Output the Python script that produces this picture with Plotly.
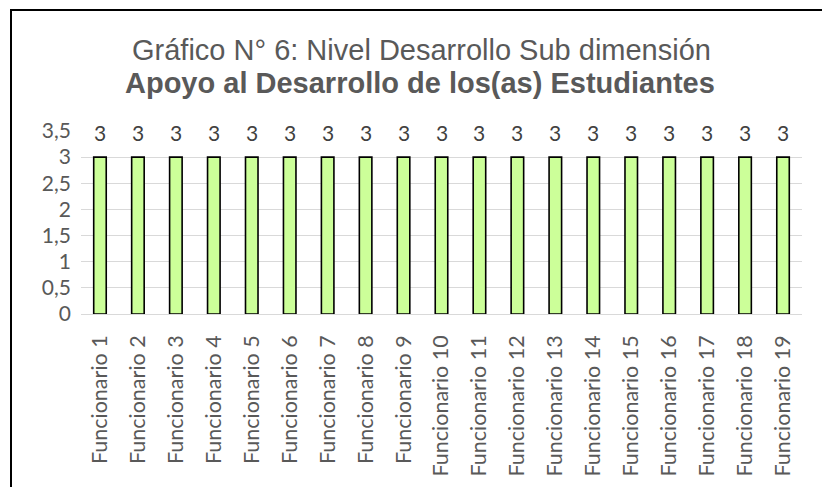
import plotly.graph_objects as go

categories = [f"Funcionario {i}" for i in range(1, 20)]
values = [3] * 19
y_ticks = [0, 0.5, 1, 1.5, 2, 2.5, 3, 3.5]
y_tick_labels = ["0", "0,5", "1", "1,5", "2", "2,5", "3", "3,5"]
title_line1 = "Gráfico N° 6: Nivel Desarrollo Sub dimensión"
title_line2 = "Apoyo al Desarrollo de los(as) Estudiantes"

W, H = 822, 487
ML, MR, MT, MB = 81, 20, 131, 173
pw = W - ML - MR
ph = H - MT - MB


def px_x(px):
    return (px - ML) / pw


def px_y(py):
    return 1 + (MT - py) / ph


fig = go.Figure()
fig.add_trace(go.Bar(
    x=categories, y=values, width=0.33,
    marker=dict(color="#CCFF99", line=dict(color="#000000", width=1.6)),
    hoverinfo="x+y",
))

for c, v in zip(categories, values):
    fig.add_annotation(x=c, y=v, text=str(v).replace(".", ","), showarrow=False,
                       yshift=25, font=dict(family="Lato", size=21, color="#404040"),
                       xref="x", yref="y")

# title lines
fig.add_annotation(xref="paper", yref="paper", x=px_x(421), y=px_y(50),
                   xanchor="center", yanchor="middle", showarrow=False,
                   text=title_line1,
                   font=dict(family="Liberation Sans", size=29, color="#595959"))
fig.add_annotation(xref="paper", yref="paper", x=px_x(420), y=px_y(83),
                   xanchor="center", yanchor="middle", showarrow=False,
                   text=f"<b>{title_line2}</b>",
                   font=dict(family="Liberation Sans", size=29, color="#595959"))

# outer chart frame (only top and left edges visible in the crop)
fig.add_shape(type="rect", xref="paper", yref="paper",
              x0=px_x(11), x1=1.5, y0=-3, y1=px_y(10),
              line=dict(color="#000000", width=2), fillcolor="rgba(0,0,0,0)", layer="below")

fig.update_layout(
    width=W, height=H,
    margin=dict(l=ML, r=MR, t=MT, b=MB, autoexpand=False),
    paper_bgcolor="white", plot_bgcolor="white",
    showlegend=False,
    bargap=0.67,
)
fig.update_yaxes(range=[0, 3.5], tickvals=y_ticks, ticktext=y_tick_labels,
                 showgrid=True, gridcolor="#D9D9D9", gridwidth=1.3,
                 zeroline=True, zerolinecolor="#D9D9D9", zerolinewidth=1.3,
                 showline=False, ticks="", ticklabelstandoff=9, automargin=False,
                 tickfont=dict(family="Lato", size=21, color="#595959"))
fig.update_xaxes(tickangle=-90, showline=False, ticks="", showgrid=False,
                 ticklabelstandoff=16, automargin=False,
                 tickfont=dict(family="Lato", size=21.5, color="#595959"))

fig.write_html("out.html", config={"displayModeBar": False},
               post_script="document.body.style.margin='0';document.body.style.padding='0';")
